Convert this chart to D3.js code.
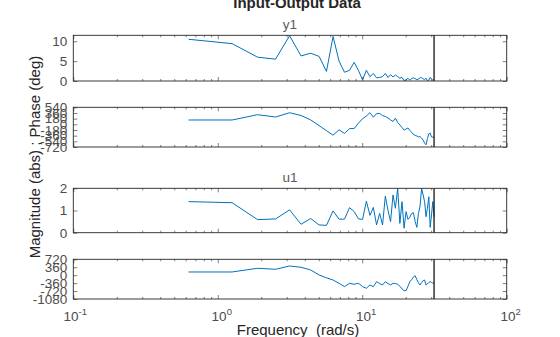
<!DOCTYPE html>
<html><head><meta charset="utf-8">
<script src="https://cdn.jsdelivr.net/npm/d3@7"></script>
<style>body{margin:0;background:#fff}svg{display:block}text{font-family:"Liberation Sans",Arial,sans-serif}</style>
</head><body><svg id="c" width="560" height="337"></svg>
<script>
const freq = [0.628,1.257,1.885,2.513,3.142,3.770,4.398,5.027,5.655,6.283,6.912,7.540,8.168,8.796,9.425,10.053,10.681,11.310,11.938,12.566,13.195,13.823,14.451,15.080,15.708,16.336,16.965,17.593,18.221,18.850,19.478,20.106,20.735,21.363,21.991,22.619,23.248,23.876,24.504,25.133,25.761,26.389,27.018,27.646,28.274,28.903,29.531,30.159,30.788,31.416];
const y1Mag = [10.5,9.4,6.0,5.5,11.4,6.3,7.0,6.2,2.4,11.2,5.0,2.2,2.7,4.7,2.6,0.3,2.7,1.1,1.9,0.8,0.9,1.1,1.9,0.9,1.6,1.0,1.5,1.1,0.7,0.9,0.1,0.3,0.7,0.2,0.6,0.8,0.6,0.3,0.5,0.8,0.9,0.5,0.4,0.7,0.05,0.2,0.9,0.5,0.2,0.3];
const y1Phase = [137,137,305,232,368,280,140,-40,-200,-345,-175,-290,-135,-135,40,180,260,370,225,340,345,275,250,200,140,90,195,60,-20,-100,-185,-150,-117,-200,-254,-320,-350,-370,-400,-390,-435,-500,-600,-650,-450,-300,-280,-400,-410,-400];
const u1Mag = [1.40,1.35,0.59,0.62,1.03,0.38,0.64,0.35,0.33,0.98,0.61,0.61,1.13,0.95,0.62,0.6,1.42,0.78,1.14,0.35,0.87,0.35,1.65,1.0,0.5,1.7,1.1,2.0,0.42,1.4,0.2,0.95,0.6,0.7,0.87,0.9,0.5,0.24,0.87,1.2,2.0,1.7,1.4,0.72,1.1,1.62,0.24,0.8,1.4,0.72];
const u1Phase = [145,145,313,267,417,358,236,10,-120,-220,-367,-520,-367,-412,-367,-520,-594,-444,-521,-295,-380,-444,-295,-380,-444,-367,-380,-412,-500,-620,-703,-703,-500,-295,-200,-80,-23,-200,-350,-444,-330,-250,-218,-444,-400,-330,-295,-330,-360,-340];
const nyquist = 31.416;
const magTicks1 = [0,5,10], phaseTicks1 = [540,360,180,0,-180,-360,-540,-720];
const magTicks2 = [0,1,2], phaseTicks2 = [720,360,0,-360,-720,-1080];
const xTicks = [0.1,1,10,100];

const svg = d3.select("#c");
const L = 73.3, R = 506.7;
const x = d3.scaleLog().domain([0.1,100]).range([L,R]);
const axisCol = "#262626", lblCol = "#4d4d4d", lineCol = "#0072BD";

const panels = [
  {top:35.3, bot:81, dom:[0,11.5], ticks:magTicks1, data:y1Mag},
  {top:107.3, bot:147, dom:[-720,540], ticks:phaseTicks1, data:y1Phase},
  {top:188.3, bot:232.7, dom:[0,2], ticks:magTicks2, data:u1Mag},
  {top:259.3, bot:299, dom:[-1080,720], ticks:phaseTicks2, data:u1Phase}
];
const minor = [];
for (let e=-1;e<2;e++) for (let m=2;m<10;m++) minor.push(m*Math.pow(10,e));

panels.forEach((p,i)=>{
  const y = d3.scaleLinear().domain(p.dom).range([p.bot,p.top]);
  const g = svg.append("g");
  const cid = "clip"+i;
  svg.append("clipPath").attr("id",cid).append("rect").attr("x",L).attr("y",p.top).attr("width",R-L).attr("height",p.bot-p.top);
  g.append("path").datum(freq.map((f,j)=>[f,p.data[j]]))
    .attr("clip-path",`url(#${cid})`)
    .attr("fill","none").attr("stroke",lineCol).attr("stroke-width",1)
    .attr("d", d3.line().x(d=>x(d[0])).y(d=>y(d[1])));
  g.append("line").attr("x1",x(nyquist)).attr("x2",x(nyquist)).attr("y1",p.top).attr("y2",p.bot)
    .attr("stroke","#000").attr("stroke-width",1.2);
  const left = d3.axisLeft(y).tickValues(p.ticks).tickSize(-4).tickPadding(6).tickFormat(d=>String(d));
  const ga = g.append("g").attr("transform",`translate(${L},0)`).call(left);
  const right = d3.axisRight(y).tickValues(p.ticks).tickSize(-4).tickFormat("");
  const gr = g.append("g").attr("transform",`translate(${R},0)`).call(right);
  const gb = g.append("g").attr("transform",`translate(0,${p.bot})`).call(d3.axisBottom(x).tickValues(xTicks).tickSize(-4).tickFormat(""));
  const gbm = g.append("g").attr("transform",`translate(0,${p.bot})`).call(d3.axisBottom(x).tickValues(minor).tickSize(-2).tickFormat(""));
  const gt = g.append("g").attr("transform",`translate(0,${p.top})`).call(d3.axisTop(x).tickValues(xTicks).tickSize(-4).tickFormat(""));
  const gtm = g.append("g").attr("transform",`translate(0,${p.top})`).call(d3.axisTop(x).tickValues(minor).tickSize(-2).tickFormat(""));
  [ga,gr,gb,gbm,gt,gtm].forEach(a=>{
    a.selectAll(".domain").remove();
    a.selectAll("line").attr("stroke",axisCol).attr("stroke-width",0.6);
  });
  ga.selectAll("text").attr("fill",lblCol).style("font-size","13.5px").style("font-family","'Liberation Sans',Arial,sans-serif");
  g.append("rect").attr("x",L).attr("y",p.top).attr("width",R-L).attr("height",p.bot-p.top)
    .attr("fill","none").attr("stroke",axisCol).attr("stroke-width",0.9);

  if (i===3) {
    const xl = g.append("g");
    xTicks.forEach(t=>{
      const e = Math.round(Math.log10(t));
      const tx = xl.append("text").attr("x",x(t)+ (e<0?2:4)).attr("y",p.bot+22).attr("text-anchor","middle")
        .attr("fill",lblCol).style("font-size","13.5px");
      tx.append("tspan").text("10");
      tx.append("tspan").attr("dy",-6).style("font-size","9.5px").text(String(e));
    });
  }
});

svg.append("text").attr("x",297).attr("y",8).attr("text-anchor","middle").attr("fill","#262626")
  .style("font-size","15px").style("font-weight","bold").text("Input-Output Data");
svg.append("text").attr("x",290).attr("y",29).attr("text-anchor","middle").attr("fill","#5a5a5a")
  .style("font-size","13.5px").text("y1");
svg.append("text").attr("x",290).attr("y",182).attr("text-anchor","middle").attr("fill","#5a5a5a")
  .style("font-size","13.5px").text("u1");
svg.append("text").attr("x",298).attr("y",335).attr("text-anchor","middle").attr("fill","#262626")
  .style("font-size","15px").style("white-space","pre").text("Frequency  (rad/s)");
svg.append("text").attr("transform","translate(40,157) rotate(-90)").attr("text-anchor","middle").attr("fill","#262626")
  .style("font-size","15px").text("Magnitude (abs) ; Phase (deg)");
</script></body></html>
